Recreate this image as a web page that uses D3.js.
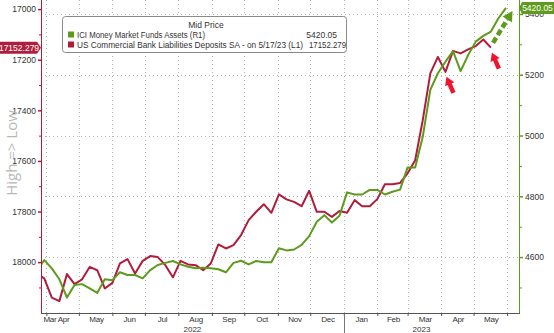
<!DOCTYPE html>
<html><head><meta charset="utf-8">
<script src="https://cdn.jsdelivr.net/npm/d3@7"></script>
<style>
html,body{margin:0;padding:0;background:#fff;}
svg{display:block;font-family:"Liberation Sans",Arial,sans-serif;}
</style></head>
<body><svg id="c" width="554" height="333"></svg>
<script>
// ---- data ----
const dates = ["2022-03-23","2022-03-30","2022-04-06","2022-04-13","2022-04-20","2022-04-27","2022-05-04","2022-05-11","2022-05-18","2022-05-25",
"2022-06-01","2022-06-08","2022-06-15","2022-06-22","2022-06-29","2022-07-06","2022-07-13","2022-07-20","2022-07-27","2022-08-03",
"2022-08-10","2022-08-17","2022-08-24","2022-08-31","2022-09-07","2022-09-14","2022-09-21","2022-09-28","2022-10-05","2022-10-12",
"2022-10-19","2022-10-26","2022-11-02","2022-11-09","2022-11-16","2022-11-23","2022-11-30","2022-12-07","2022-12-14","2022-12-21",
"2022-12-28","2023-01-04","2023-01-11","2023-01-18","2023-01-25","2023-02-01","2023-02-08","2023-02-15","2023-02-22","2023-03-01",
"2023-03-08","2023-03-15","2023-03-22","2023-03-29","2023-04-05","2023-04-12","2023-04-19","2023-04-26","2023-05-03","2023-05-10",
"2023-05-17","2023-05-24","2023-05-31"];
// ICI Money Market Funds Assets (R1), $bn
const moneyMarket = [4554,4590,4563,4527,4467,4508,4511,4497,4482,4527,
4524,4550,4541,4541,4530,4557,4574,4581,4587,4576,
4568,4563,4565,4563,4560,4550,4581,4588,4576,4587,
4583,4583,4629,4622,4625,4640,4669,4716,4738,4714,
4736,4813,4806,4806,4821,4821,4806,4815,4822,4895,
4895,4996,5150,5205,5243,5278,5212,5265,5309,5328,
5342,5386,5420.05];
// US Commercial Bank Liabilities Deposits SA (L1, inverted), $bn
const deposits = [18045,18064,18140,18154,18047,18087,18068,18019,18032,18104,
18082,18005,17988,18045,17995,17976,17980,18012,18060,17995,
18009,18012,18032,18005,17930,17946,17933,17893,17834,17801,
17771,17805,17732,17752,17762,17779,17718,17801,17801,17821,
17798,17805,17755,17779,17779,17751,17692,17692,17687,17649,
17597,17439,17254,17189,17248,17165,17175,17159,17146,17120,
17152.279];
const leftTicks = [17000,17200,17400,17600,17800,18000];
const rightTicks = [4600,4800,5000,5200,5400];
const monthNames = ["Jan","Feb","Mar","Apr","May","Jun","Jul","Aug","Sep","Oct","Nov","Dec"];
const legendTitle = "Mid Price";
const legendRows = [
  {label:"ICI Money Market Funds Assets  (R1)", value:"5420.05"},
  {label:"US Commercial Bank Liabilities Deposits SA -  on 5/17/23  (L1)", value:"17152.279"}
];
const redArrowDates = ["2023-04-05","2023-05-17"];
const greenArrow = {from:["2023-05-19",5305], to:["2023-06-06",5410]};

// ---- layout ----
const RED = "#b01c3c", GREEN = "#5e9a1c", ARROW_RED = "#f0142d";
const L = 41, R = 519, T = 0, B = 313;
const parse = d3.timeParse("%Y-%m-%d");
const D = dates.map(parse);
const svg = d3.select("#c");

const x = d3.scaleTime().domain([parse("2022-03-27"), parse("2023-06-12")]).range([L, R]);
const yL = d3.scaleLinear().domain([16964, 18201]).range([T, B]); // inverted: High => Low
const yR = d3.scaleLinear().domain([4416, 5446]).range([B, T]);

svg.append("defs").append("clipPath").attr("id","clip")
  .append("rect").attr("x",L).attr("y",T).attr("width",R-L).attr("height",B-T);

// gridlines
const gridG = svg.append("g").attr("stroke","#b5b5b5").attr("stroke-dasharray","1,3").attr("stroke-width",1);
rightTicks.forEach(v=>{
  gridG.append("line").attr("x1",L).attr("x2",R).attr("y1",Math.round(yR(v))+0.5).attr("y2",Math.round(yR(v))+0.5);
});
const monthStarts = d3.timeMonth.range(d3.timeMonth.ceil(x.domain()[0]), x.domain()[1]);
monthStarts.forEach(m=>{
  const xx = Math.round(x(m))+0.5;
  gridG.append("line").attr("x1",xx).attr("x2",xx).attr("y1",T).attr("y2",B);
});

// lines
const lineG = svg.append("g").attr("clip-path","url(#clip)");
lineG.append("path").datum(deposits)
  .attr("fill","none").attr("stroke",RED).attr("stroke-width",2).attr("stroke-linejoin","round")
  .attr("d", d3.line().x((d,i)=>x(D[i])).y(d=>yL(d)));
lineG.append("path").datum(moneyMarket)
  .attr("fill","none").attr("stroke",GREEN).attr("stroke-width",2).attr("stroke-linejoin","round")
  .attr("d", d3.line().x((d,i)=>x(D[i])).y(d=>yR(d)));

// annotation arrows
function blockArrow(tx,ty,bx,by,headW,headL,shaftW){
  const dx=tx-bx, dy=ty-by, len=Math.hypot(dx,dy), ux=dx/len, uy=dy/len, px=-uy, py=ux;
  const hx=tx-ux*headL, hy=ty-uy*headL;
  const pts=[[tx,ty],[hx+px*headW/2,hy+py*headW/2],[hx+px*shaftW/2,hy+py*shaftW/2],
    [bx+px*shaftW/2,by+py*shaftW/2],[bx-px*shaftW/2,by-py*shaftW/2],
    [hx-px*shaftW/2,hy-py*shaftW/2],[hx-px*headW/2,hy-py*headW/2]];
  return "M"+pts.map(p=>p.join(",")).join("L")+"Z";
}
const depByDate = new Map(dates.map((d,i)=>[d,deposits[i]]));
redArrowDates.forEach(ds=>{
  const px = x(parse(ds)), py = yL(depByDate.get(ds));
  svg.append("path").attr("fill",ARROW_RED)
    .attr("d", blockArrow(px+1, py+5, px+8, py+21, 10, 8, 4.5));
});
{
  const x0=x(parse(greenArrow.from[0])), y0=yR(greenArrow.from[1]);
  const x1=x(parse(greenArrow.to[0])), y1=yR(greenArrow.to[1]);
  const len=Math.hypot(x1-x0,y1-y0), ux=(x1-x0)/len, uy=(y1-y0)/len;
  const hx=x1-ux*10, hy=y1-uy*10;
  svg.append("line").attr("x1",x0).attr("y1",y0).attr("x2",hx).attr("y2",hy)
    .attr("stroke",GREEN).attr("stroke-width",4.5).attr("stroke-dasharray","6,3");
  svg.append("path").attr("fill",GREEN).attr("d", blockArrow(x1,y1,hx-ux*1,hy-uy*1,11,10,0.1));
}

// axes lines
svg.append("line").attr("x1",L+0.5).attr("x2",L+0.5).attr("y1",T).attr("y2",B).attr("stroke",RED).attr("stroke-width",1);
svg.append("line").attr("x1",R+0.5).attr("x2",R+0.5).attr("y1",T).attr("y2",B).attr("stroke",GREEN).attr("stroke-width",1);
svg.append("line").attr("x1",L).attr("x2",R+1).attr("y1",B+0.5).attr("y2",B+0.5).attr("stroke","#555").attr("stroke-width",1);

// left axis
const la = svg.append("g").attr("transform",`translate(${L},0)`)
  .call(d3.axisLeft(yL).tickValues(leftTicks).tickSize(3).tickPadding(2).tickFormat(d3.format("d")));
la.select(".domain").remove();
la.selectAll(".tick line").attr("stroke",RED).attr("stroke-width",1.5);
la.selectAll("text").attr("fill","#333").style("font-size","8.5px").style("font-family","Liberation Sans, Arial, sans-serif");
const lam = svg.append("g").attr("transform",`translate(${L},0)`)
  .call(d3.axisLeft(yL).tickValues(d3.range(17100,18201,200)).tickSize(2).tickFormat(""));
lam.select(".domain").remove();
lam.selectAll(".tick line").attr("stroke",RED);

// right axis
const ra = svg.append("g").attr("transform",`translate(${R+1},0)`)
  .call(d3.axisRight(yR).tickValues(rightTicks).tickSize(3).tickPadding(2).tickFormat(d3.format("d")));
ra.select(".domain").remove();
ra.selectAll(".tick line").attr("stroke",GREEN).attr("stroke-width",1.5);
ra.selectAll("text").attr("fill","#333").style("font-size","8.5px").style("font-family","Liberation Sans, Arial, sans-serif");
const ram = svg.append("g").attr("transform",`translate(${R+1},0)`)
  .call(d3.axisRight(yR).tickValues(d3.range(4500,5446,200)).tickSize(2).tickFormat(""));
ram.select(".domain").remove();
ram.selectAll(".tick line").attr("stroke",GREEN);

// bottom axis ticks
const ba = svg.append("g").attr("transform",`translate(0,${B})`)
  .call(d3.axisBottom(x).tickValues(monthStarts).tickSize(3).tickFormat(""));
ba.select(".domain").remove();
ba.selectAll(".tick line").attr("stroke","#555");

// month labels (centered in visible span of each month)
const labelMonths = d3.timeMonth.range(d3.timeMonth.floor(x.domain()[0]), parse("2023-06-01"));
labelMonths.forEach(m=>{
  const s = d3.max([m, x.domain()[0]]), e = d3.min([d3.timeMonth.offset(m,1), x.domain()[1]]);
  let cx = (x(s)+x(e))/2;
  const first = cx < L+9;
  cx = Math.max(cx, L+9);
  svg.append("text").attr("x",first ? cx : cx+1).attr("y",322).attr("text-anchor","middle")
    .attr("fill","#333").style("font-size","8px").style("letter-spacing","-0.2px")
    .text(monthNames[m.getMonth()]);
});
// years
[2022,2023].forEach(yr=>{
  const s = d3.max([new Date(yr,0,1), x.domain()[0]]), e = d3.min([new Date(yr+1,0,1), parse("2023-06-01")]);
  svg.append("text").attr("x",(x(s)+x(e))/2 - (yr===2023?4:0)).attr("y",332).attr("text-anchor","middle")
    .attr("fill","#333").style("font-size","8px").text(String(yr));
});
svg.append("line").attr("x1",Math.round(x(new Date(2023,0,1)))+0.5).attr("x2",Math.round(x(new Date(2023,0,1)))+0.5)
  .attr("y1",B+3).attr("y2",333).attr("stroke","#777");

// left axis title
svg.append("text").attr("transform","translate(17,153) rotate(-90)").attr("text-anchor","middle")
  .attr("fill","#b8b8b8").style("font-size","15px").style("font-family","Open Sans, Liberation Sans, sans-serif")
  .text("High => Low");

// value tags
function tag(side, yy, txt, color){
  const h=12, g=svg.append("g");
  if(side==="left"){
    g.append("path").attr("fill",color)
      .attr("d",`M0,${yy-h/2}L${L-4},${yy-h/2}L${L},${yy}L${L-4},${yy+h/2}L0,${yy+h/2}Z`);
    g.append("text").attr("x",19).attr("y",yy+3.2).attr("text-anchor","middle").attr("fill","#fff")
      .style("font-size","8.5px").text(txt);
  } else {
    const top=Math.max(yy-h/2,1);
    const mid=top+h/2;
    g.append("path").attr("fill",color)
      .attr("d",`M${R},${mid}L${R+3},${top}L554,${top}L554,${top+h}L${R+3},${top+h}Z`);
    g.append("text").attr("x",537.5).attr("y",mid+3.2).attr("text-anchor","middle").attr("fill","#fff")
      .style("font-size","8.5px").text(txt);
  }
}
tag("left", yL(deposits[deposits.length-1]), d3.format(".3f")(deposits[deposits.length-1]), RED);
tag("right", yR(moneyMarket[moneyMarket.length-1]), d3.format(".2f")(moneyMarket[moneyMarket.length-1]), GREEN);

// legend
const lg = svg.append("g");
lg.append("rect").attr("x",62.5).attr("y",16.5).attr("width",284).attr("height",36).attr("rx",3)
  .attr("fill","#fff").attr("stroke","#8a8a8a");
lg.append("text").attr("x",206).attr("y",28).attr("text-anchor","middle").attr("fill","#333")
  .style("font-size","8.5px").text(legendTitle);
const rowColors=[GREEN,RED], rowLens=[128,226], valEnd=[337,346];
legendRows.forEach((r,i)=>{
  const by = 37.8 + i*10;
  lg.append("rect").attr("x",68).attr("y",by-6.3).attr("width",6).attr("height",6).attr("fill",rowColors[i]);
  lg.append("text").attr("x",77).attr("y",by).attr("fill","#333").style("font-size","8.5px")
    .attr("textLength",rowLens[i]).attr("lengthAdjust","spacingAndGlyphs").text(r.label);
  lg.append("text").attr("x",valEnd[i]).attr("y",by).attr("text-anchor","end").attr("fill","#333")
    .style("font-size","8.5px").attr("textLength", i===1 ? 37 : null).attr("lengthAdjust","spacingAndGlyphs").text(r.value);
});
</script></body></html>
